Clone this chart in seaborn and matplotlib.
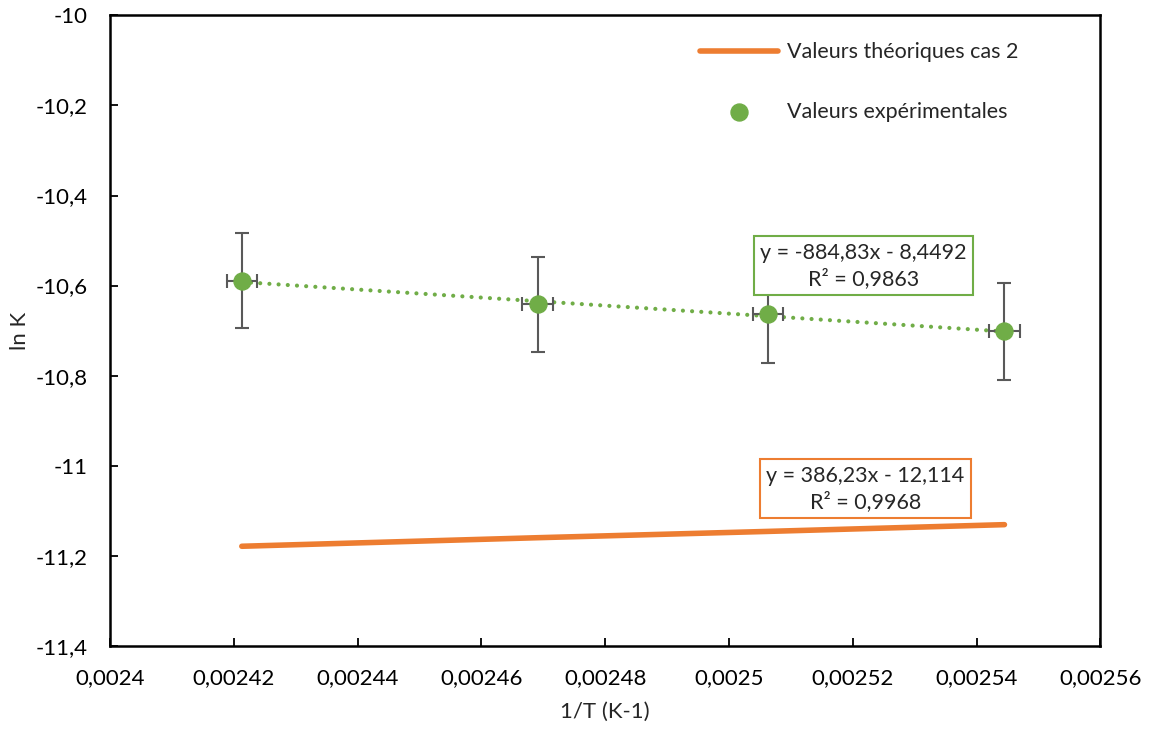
import numpy as np
import pandas as pd
import matplotlib
matplotlib.use('Agg')
import matplotlib.pyplot as plt
import seaborn as sns
from matplotlib.ticker import FuncFormatter

sns.set_style('white')
plt.rcParams['font.family'] = ['Lato', 'DejaVu Sans']

# 1/T (K-1) et ln K
inv_T = [0.0024213, 0.0024691, 0.0025063, 0.0025445]
ln_K_exp = [-10.589, -10.642, -10.664, -10.702]
ln_K_err = [0.106, 0.106, 0.107, 0.107]
inv_T_err = [0.0000024, 0.0000025, 0.0000025, 0.0000025]
ln_K_theo = [-11.179, -11.160, -11.146, -11.131]

eq_exp = "y = -884,83x - 8,4492\nR² = 0,9863"
eq_theo = "y = 386,23x - 12,114\nR² = 0,9968"

df = pd.DataFrame({'inv_T': inv_T, 'exp': ln_K_exp, 'theo': ln_K_theo})

green = '#70AD47'
orange = '#ED7D31'

fig = plt.figure(figsize=(11.49, 7.33), dpi=100)
ax = fig.add_axes([0.0957, 0.119, 0.862, 0.860])

sns.lineplot(data=df, x='inv_T', y='theo', color=orange, linewidth=4,
             solid_capstyle='round', label='Valeurs théoriques cas 2', ax=ax)
ax.errorbar(inv_T, ln_K_exp, yerr=ln_K_err, xerr=inv_T_err, fmt='none',
            ecolor='#595959', elinewidth=1.5, capsize=5, capthick=1.5, zorder=3)
sns.regplot(data=df, x='inv_T', y='exp', scatter=False, ci=None, ax=ax,
            line_kws=dict(color=green, linestyle=(0, (0.01, 2.2)), linewidth=3.0,
                          dash_capstyle='round'))
sns.scatterplot(data=df, x='inv_T', y='exp', color=green, s=150,
                edgecolor=green, label='Valeurs expérimentales', zorder=4, ax=ax)

ax.text(0.7606, 0.603, eq_exp, transform=ax.transAxes, ha='center', va='center',
        fontsize=15.5, linespacing=1.3,
        bbox=dict(boxstyle='square,pad=0.3', facecolor='white', edgecolor=green, linewidth=1.5))
ax.text(0.7625, 0.249, eq_theo, transform=ax.transAxes, ha='center', va='center',
        fontsize=15.5, linespacing=1.3,
        bbox=dict(boxstyle='square,pad=0.3', facecolor='white', edgecolor=orange, linewidth=1.5))

ax.set_xlim(0.0024, 0.00256)
ax.set_ylim(-11.4, -10)
ax.set_xticks(np.arange(0.0024, 0.002561, 0.00002))
ax.set_yticks(np.arange(-11.4, -9.99, 0.2))


def fmt(v, pos):
    s = ('%.6f' % v).rstrip('0').rstrip('.')
    if s == '-0':
        s = '0'
    return s.replace('.', ',')


ax.xaxis.set_major_formatter(FuncFormatter(fmt))
ax.yaxis.set_major_formatter(FuncFormatter(fmt))
ax.tick_params(axis='both', direction='in', length=6, width=1.3, labelsize=16,
               colors='black', bottom=True, left=True)
ax.tick_params(axis='x', pad=16)
ax.tick_params(axis='y', pad=16)
for sp in ax.spines.values():
    sp.set_visible(True)
    sp.set_color('black')
    sp.set_linewidth(1.8)

ax.set_xlabel('1/T (K-1)', fontsize=16, labelpad=10)
ax.set_ylabel('ln K', fontsize=16, labelpad=4)

leg = ax.legend(loc='upper right', frameon=False, fontsize=15.5, labelspacing=1.85,
                handlelength=3.6, handletextpad=0.45, borderaxespad=0.4,
                bbox_to_anchor=(0.935, 0.985))

fig.savefig('out.png', dpi=100)
